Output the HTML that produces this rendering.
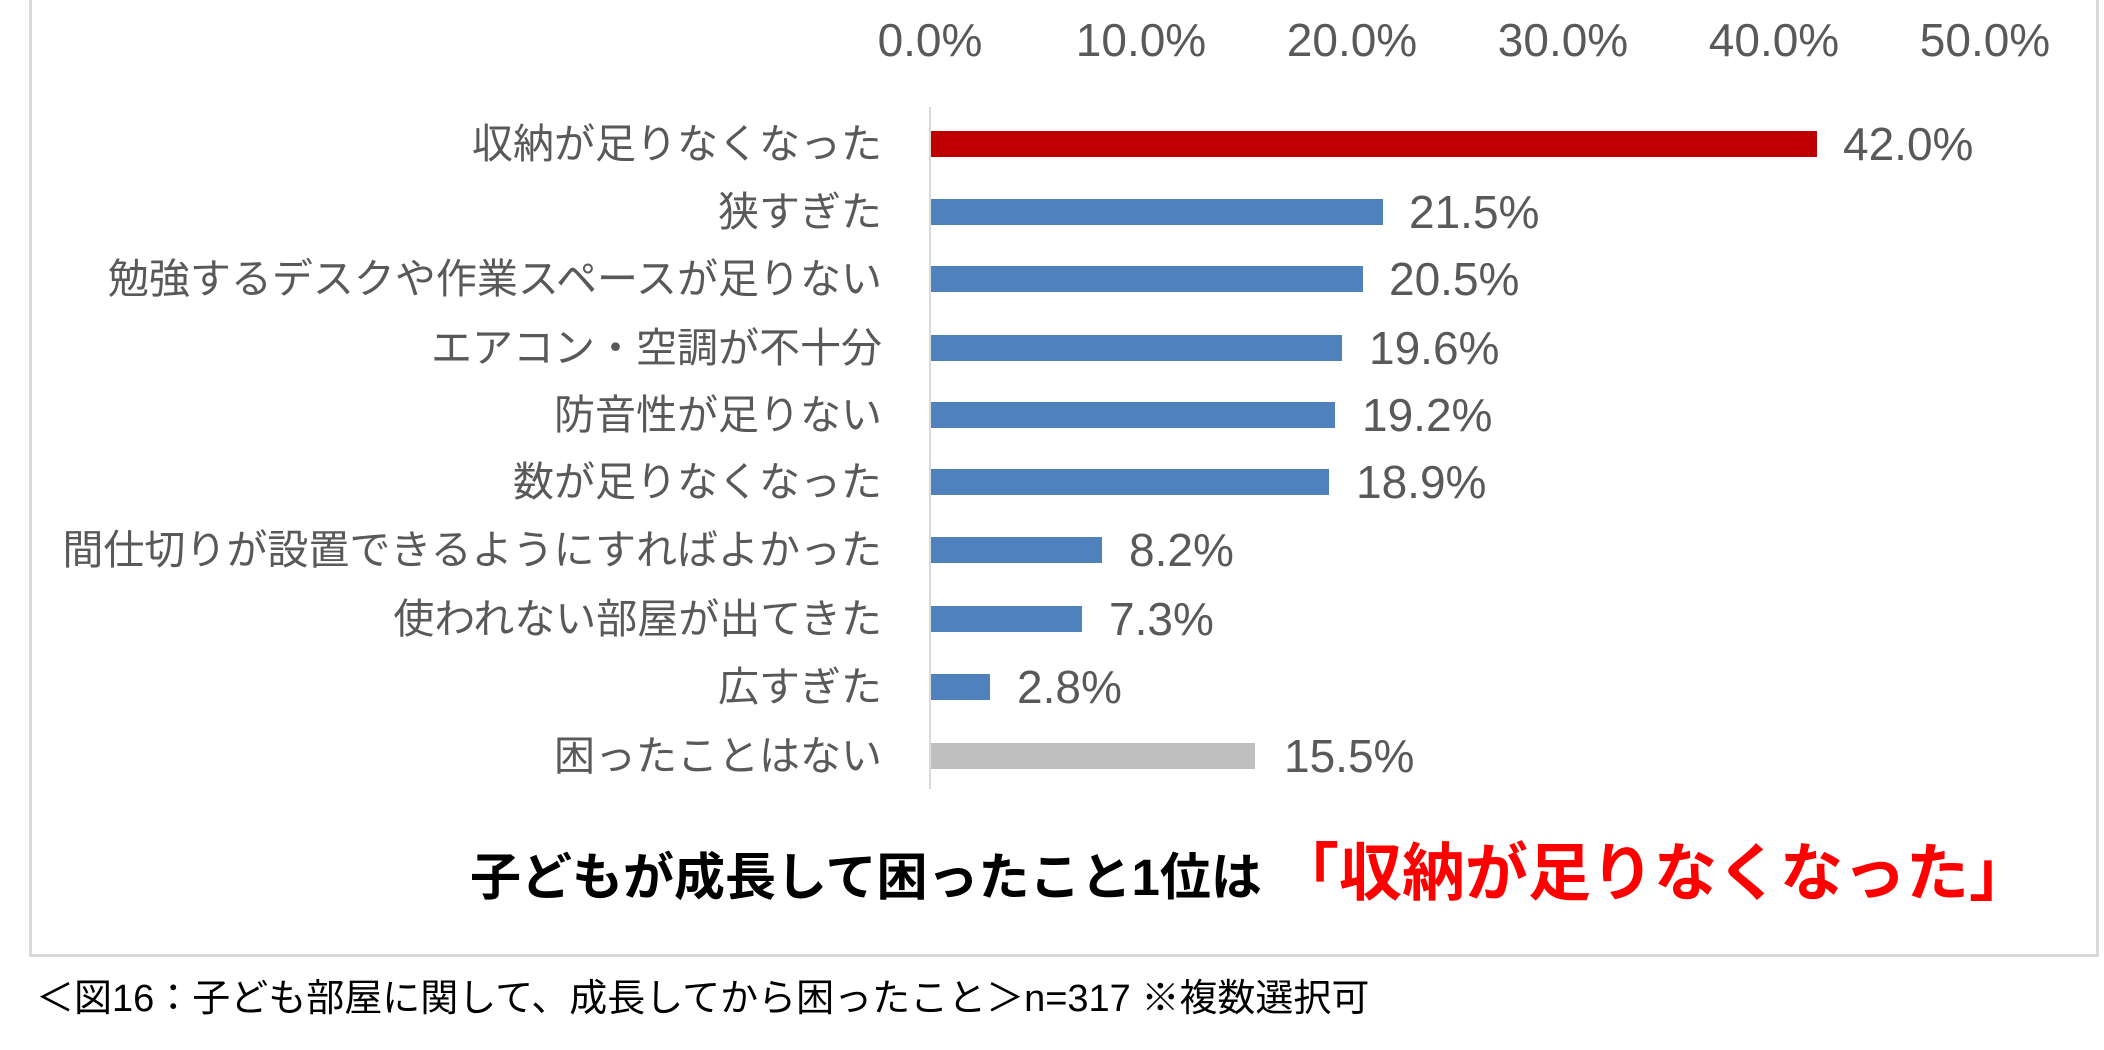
<!DOCTYPE html>
<html><head><meta charset="utf-8"><style>
body{margin:0;width:2104px;height:1050px;background:#fff;position:relative;overflow:hidden;font-family:"Liberation Sans","Noto Sans CJK JP",sans-serif;}
.frame{position:absolute;left:29px;top:0;width:2070px;height:957px;border:3px solid #d9d9d9;border-top:none;box-sizing:border-box;}
.t{position:absolute;color:#595959;font-size:46px;line-height:50px;white-space:nowrap;}
.tick{transform:translateX(-50%);top:15px;}
.lab{right:1222px;text-align:right;font-size:41px;}
.bar{position:absolute;left:931px;height:26px;}
.v{margin-top:-1px;}
.axis{position:absolute;left:929px;top:107px;width:2px;height:682px;background:#d9d9d9;}
</style></head><body>
<div class="frame"></div>
<div class="t tick" style="left:930px">0.0%</div>
<div class="t tick" style="left:1141px">10.0%</div>
<div class="t tick" style="left:1352px">20.0%</div>
<div class="t tick" style="left:1563px">30.0%</div>
<div class="t tick" style="left:1774px">40.0%</div>
<div class="t tick" style="left:1985px">50.0%</div>
<div class="axis"></div>

<div class="t lab" style="top:119px">収納が足りなくなった</div>
<div class="bar" style="top:131px;width:886px;background:#C00000"></div>
<div class="t" style="top:119px;left:1843px">42.0%</div>

<div class="t lab" style="top:187px">狭すぎた</div>
<div class="bar" style="top:199px;width:452px;background:#4F81BD"></div>
<div class="t" style="top:187px;left:1409px">21.5%</div>

<div class="t lab" style="top:254px">勉強するデスクや作業スペースが足りない</div>
<div class="bar" style="top:266px;width:432px;background:#4F81BD"></div>
<div class="t" style="top:254px;left:1389px">20.5%</div>

<div class="t lab" style="top:323px">エアコン・空調が不十分</div>
<div class="bar" style="top:335px;width:411px;background:#4F81BD"></div>
<div class="t" style="top:323px;left:1369px">19.6%</div>

<div class="t lab" style="top:390px">防音性が足りない</div>
<div class="bar" style="top:402px;width:404px;background:#4F81BD"></div>
<div class="t" style="top:390px;left:1362px">19.2%</div>

<div class="t lab" style="top:457px">数が足りなくなった</div>
<div class="bar" style="top:469px;width:398px;background:#4F81BD"></div>
<div class="t" style="top:457px;left:1356px">18.9%</div>

<div class="t lab" style="top:525px">間仕切りが設置できるようにすればよかった</div>
<div class="bar" style="top:537px;width:171px;background:#4F81BD"></div>
<div class="t" style="top:525px;left:1129px">8.2%</div>

<div class="t lab" style="top:594px">使われない部屋が出てきた</div>
<div class="bar" style="top:606px;width:151px;background:#4F81BD"></div>
<div class="t" style="top:594px;left:1109px">7.3%</div>

<div class="t lab" style="top:662px">広すぎた</div>
<div class="bar" style="top:674px;width:59px;background:#4F81BD"></div>
<div class="t" style="top:662px;left:1017px">2.8%</div>

<div class="t lab" style="top:731px">困ったことはない</div>
<div class="bar" style="top:743px;width:324px;background:#BFBFBF"></div>
<div class="t" style="top:731px;left:1284px">15.5%</div>

<div style="position:absolute;left:470px;top:838px;font-size:51px;line-height:72px;font-weight:bold;white-space:nowrap;color:#000">子どもが成長して困ったこと1位は <span style="color:#FF0000;font-size:63px">「収納が足りなくなった」</span></div>

<div style="position:absolute;left:36px;top:976px;font-size:38px;line-height:46px;color:#000;white-space:nowrap">＜図16：子ども部屋に関して、成長してから困ったこと＞n=317 ※複数選択可</div>
</body></html>
